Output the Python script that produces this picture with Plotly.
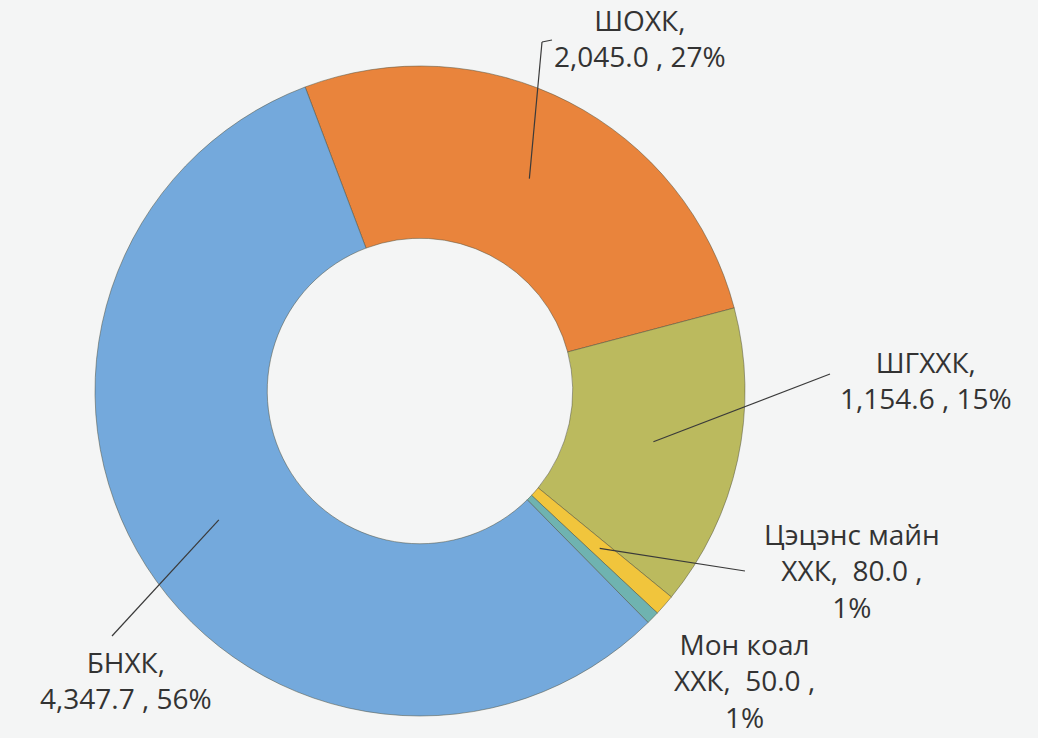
import math
import plotly.graph_objects as go

# values (clockwise order starting at the top)
companies = ["ШОХК", "ШГХХК", "Цэцэнс майн ХХК", "Мон коал ХХК", "БНХК"]
amounts = [2045.0, 1154.6, 80.0, 50.0, 4347.7]
label_texts = [
    "ШОХК,<br>2,045.0 , 27%",
    "ШГХХК,<br>1,154.6 , 15%",
    "Цэцэнс майн<br>ХХК,  80.0 ,<br>1%",
    "Мон коал<br>ХХК,  50.0 ,<br>1%",
    "БНХК,<br>4,347.7 , 56%",
]
colors = ["#E9843C", "#BBBA5E", "#F1C53C", "#6FB3B0", "#74A9DC"]

W, H = 1038, 738
cx, cy, R = 420, 391, 325       # pie centre / radius in pixels
HOLE = 0.47
ROT = -20.7

fig = go.Figure()
fig.add_trace(go.Pie(
    labels=companies, values=amounts, sort=False, direction="clockwise",
    rotation=ROT, hole=HOLE, textinfo="none", hoverinfo="label+value+percent",
    marker=dict(colors=colors, line=dict(color="rgba(80,80,60,0.5)", width=1)),
    domain=dict(x=[(cx - R) / W, (cx + R) / W], y=[1 - (cy + R) / H, 1 - (cy - R) / H]),
    showlegend=False,
))

# anchor points of the leader lines: middle of each slice, middle of the ring
total = sum(amounts)
anchors = []
ang = ROT
for v in amounts:
    mid = ang + 360 * v / total / 2
    ang += 360 * v / total
    rr = R * (1 + HOLE) / 2
    t = math.radians(mid)
    anchors.append((cx + rr * math.sin(t), cy - rr * math.cos(t)))

def px(x, y):
    return x / W, 1 - y / H

# leader line end points / label centres (pixels)
line_ends = [(542, 42), (830, 374), (745, 571), None, (112, 636)]
label_pos = [(640, 38), (926, 380), (852, 570), (744, 680), (126, 680)]

shapes = []
for i, end in enumerate(line_ends):
    if end is None:
        continue
    x0, y0 = px(*anchors[i])
    x1, y1 = px(*end)
    shapes.append(dict(type="line", xref="paper", yref="paper", x0=x0, y0=y0, x1=x1, y1=y1,
                       line=dict(color="#3a3a3a", width=1.2)))
# small hook at the top of the ШОХК leader
hx0, hy0 = px(*line_ends[0])
hx1, hy1 = px(line_ends[0][0] + 10, line_ends[0][1] - 2)
shapes.append(dict(type="line", xref="paper", yref="paper", x0=hx0, y0=hy0, x1=hx1, y1=hy1,
                   line=dict(color="#3a3a3a", width=1.2)))

annotations = []
for txt, (lx, ly) in zip(label_texts, label_pos):
    x, y = px(lx, ly)
    annotations.append(dict(text=txt, x=x, y=y, xref="paper", yref="paper", showarrow=False,
                            xanchor="center", yanchor="middle", align="center",
                            font=dict(family="Open Sans", size=28, color="#333333")))

fig.update_layout(
    width=W, height=H, margin=dict(l=0, r=0, t=0, b=0),
    paper_bgcolor="#F4F5F5", plot_bgcolor="#F4F5F5",
    shapes=shapes, annotations=annotations,
)

fig.write_html("out.html", config={"displayModeBar": False},
               post_script="document.body.style.margin='0';")
